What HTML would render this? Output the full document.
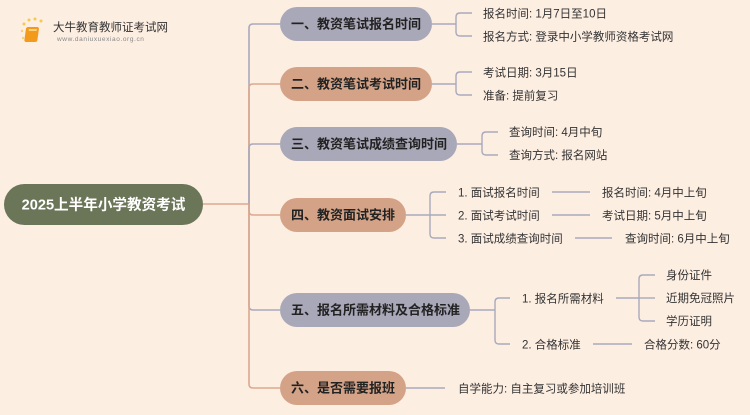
<!DOCTYPE html>
<html><head><meta charset="utf-8"><style>
html,body{margin:0;padding:0;background:#fdeee2;}
svg text{font-family:"Liberation Sans","Noto Sans CJK SC",sans-serif;}
</style></head><body>
<svg width="750" height="410" viewBox="0 0 750 410" xmlns="http://www.w3.org/2000/svg">
<rect width="750" height="410" fill="#fdeee2"/>
<g>
<circle cx="24" cy="24" r="1.5" fill="#f7c84a"/><circle cx="29" cy="20" r="1.5" fill="#f7c84a"/><circle cx="35" cy="19" r="1.5" fill="#f7c84a"/><circle cx="41" cy="21" r="1.5" fill="#f7c84a"/><circle cx="22" cy="31" r="1.2" fill="#f7d070"/><circle cx="23" cy="38" r="1.2" fill="#f7d070"/>
<rect x="30" y="27" width="13" height="15" rx="2" fill="#f39a1c" transform="skewX(-8)"/>
<rect x="33" y="29" width="8" height="2" fill="#ffd27a" transform="skewX(-8)"/>
<text x="53" y="31" font-size="11.5" fill="#333">大牛教育教师证考试网</text>
<text x="57" y="41" font-size="6.5" fill="#888" letter-spacing="0.6">www.daniuxuexiao.org.cn</text>
</g>
<g fill="none" stroke-width="1.6">
<path d="M203 204 H249" stroke="#dba88e"/>
<path d="M249 204 V28 Q249 24 253 24 H280" stroke="#a9a9bd"/>
<path d="M249 204 V88 Q249 84 253 84 H280" stroke="#dba88e"/>
<path d="M249 204 V148 Q249 144 253 144 H280" stroke="#a9a9bd"/>
<path d="M249 204 V211 Q249 215 253 215 H280" stroke="#dba88e"/>
<path d="M249 204 V306 Q249 310 253 310 H280" stroke="#a9a9bd"/>
<path d="M249 204 V384 Q249 388 253 388 H280" stroke="#dba88e"/>
</g>
<g fill="none" stroke="#a9a9bd" stroke-width="1.4">
<path d="M432 24 H456"/><path d="M472 13 H460 Q456 13 456 17 V32 Q456 36 460 36 H472"/>
<path d="M432 84 H456"/><path d="M472 72 H460 Q456 72 456 76 V91 Q456 95 460 95 H472"/>
<path d="M457 144 H482"/><path d="M498 132 H486 Q482 132 482 136 V151 Q482 155 486 155 H498"/>
<path d="M406 215 H446"/><path d="M446 192 H434 Q430 192 430 196 V234 Q430 238 434 238 H446"/>
<path d="M552 192 H590"/><path d="M552 215 H590"/><path d="M575 238 H612"/>
<path d="M470 310 H495"/><path d="M510 298 H499 Q495 298 495 302 V340 Q495 344 499 344 H510"/>
<path d="M616 298 H639"/><path d="M655 275 H643 Q639 275 639 279 V317 Q639 321 643 321 H655"/><path d="M639 298 H655"/>
<path d="M593 344 H632"/>
<path d="M406 388 H445"/>
</g>
<rect x="4" y="184" width="199" height="41" rx="20.5" fill="#6b7558"/>
<text x="103.5" y="209.5" font-size="14.6" font-weight="bold" fill="#fff" text-anchor="middle">2025上半年小学教资考试</text>
<g font-size="13" font-weight="bold" fill="#222">
<rect x="280" y="7" width="152" height="34" rx="17" fill="#a9a8b9"/><text x="291" y="28.5">一、教资笔试报名时间</text>
<rect x="280" y="67" width="152" height="34" rx="17" fill="#d4a387"/><text x="291" y="88.5">二、教资笔试考试时间</text>
<rect x="280" y="127" width="177" height="34" rx="17" fill="#a9a8b9"/><text x="291" y="148.5">三、教资笔试成绩查询时间</text>
<rect x="280" y="198" width="126" height="34" rx="17" fill="#d4a387"/><text x="291" y="219.5">四、教资面试安排</text>
<rect x="280" y="293" width="190" height="34" rx="17" fill="#a9a8b9"/><text x="291" y="314.5">五、报名所需材料及合格标准</text>
<rect x="280" y="371" width="126" height="34" rx="17" fill="#d4a387"/><text x="291" y="392.5">六、是否需要报班</text>
</g>
<g font-size="11.5" fill="#333">
<text x="483" y="17.5">报名时间: 1月7日至10日</text>
<text x="483" y="40.5">报名方式: 登录中小学教师资格考试网</text>
<text x="483" y="76.5">考试日期: 3月15日</text>
<text x="483" y="99.5">准备: 提前复习</text>
<text x="509" y="136">查询时间: 4月中旬</text>
<text x="509" y="159">查询方式: 报名网站</text>
<text x="458" y="196.5">1. 面试报名时间</text>
<text x="458" y="219.5">2. 面试考试时间</text>
<text x="458" y="242.5">3. 面试成绩查询时间</text>
<text x="602" y="196.5">报名时间: 4月中上旬</text>
<text x="602" y="219.5">考试日期: 5月中上旬</text>
<text x="625" y="242.5">查询时间: 6月中上旬</text>
<text x="522" y="302.5">1. 报名所需材料</text>
<text x="522" y="348.5">2. 合格标准</text>
<text x="666" y="279">身份证件</text>
<text x="666" y="302">近期免冠照片</text>
<text x="666" y="325">学历证明</text>
<text x="644" y="348.5">合格分数: 60分</text>
<text x="458" y="392.5">自学能力: 自主复习或参加培训班</text>
</g>
</svg>
</body></html>
